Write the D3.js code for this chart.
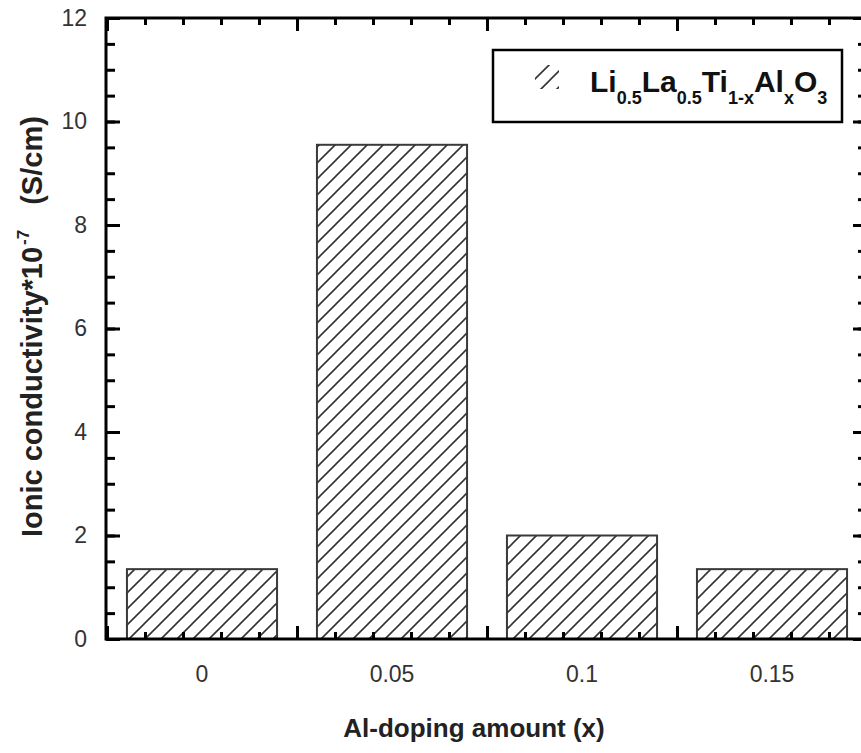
<!DOCTYPE html>
<html>
<head>
<meta charset="utf-8">
<script src="https://cdn.jsdelivr.net/npm/d3@7"></script>
<style>
  body { margin: 0; background: #fff; }
  text { font-family: Arial, "Liberation Sans", sans-serif; }
</style>
</head>
<body>
<svg id="chart" width="861" height="753"></svg>
<script>
const categories = ["0", "0.05", "0.1", "0.15"]
const conductivity = [1.35, 9.55, 2.0, 1.35]
const yTicks = [0, 2, 4, 6, 8, 10, 12]
const yMinorTicks = d3.range(0, 12.01, 0.5)
const legendParts = [
  { t: "Li", sub: false }, { t: "0.5", sub: true },
  { t: "La", sub: false }, { t: "0.5", sub: true },
  { t: "Ti", sub: false }, { t: "1-x", sub: true },
  { t: "Al", sub: false }, { t: "x", sub: true },
  { t: "O", sub: false }, { t: "3", sub: true }
]

const plot = { left: 106, right: 867, top: 18, bottom: 639 }

const svg = d3.select("#chart")

// hatch patterns
const defs = svg.append("defs")
const hatch = (id, shift) => defs.append("pattern")
  .attr("id", id)
  .attr("patternUnits", "userSpaceOnUse")
  .attr("patternTransform", `translate(${shift},0)`)
  .attr("width", 16)
  .attr("height", 16)
  .append("path")
  .attr("d", "M-4,4 l8,-8 M0,16 l16,-16 M12,20 l8,-8")
  .attr("stroke", "#333")
  .attr("stroke-width", 1.6)
hatch("hatch", 0)
hatch("hatchLegend", 6)

// scales
const x = d3.scaleBand()
  .domain(categories)
  .range([plot.left + 1, plot.right])
  .paddingInner(0.21)
  .paddingOuter(0.105)

const xEdge = d3.scaleLinear()
  .domain([0, categories.length])
  .range([plot.left + 1, plot.right])

const y = d3.scaleLinear()
  .domain([0, 12])
  .range([plot.bottom, plot.top])

// bars
svg.append("g")
  .selectAll("rect")
  .data(conductivity)
  .enter()
  .append("rect")
  .attr("x", (d, i) => x(categories[i]))
  .attr("y", d => y(d))
  .attr("width", x.bandwidth())
  .attr("height", d => y(0) - y(d))
  .attr("fill", "url(#hatch)")
  .attr("stroke", "#3a3a3a")
  .attr("stroke-width", 2)

const edgeMajor = d3.range(0, categories.length + 1)
const edgeMinor = d3.range(0, categories.length + 0.01, 0.2)

const tickStyle = g => {
  g.select(".domain").remove()
  g.selectAll(".tick line").attr("stroke", "#000").attr("stroke-width", 3)
}

// bottom ticks
svg.append("g").attr("transform", `translate(0,${plot.bottom})`)
  .call(d3.axisTop(xEdge).tickValues(edgeMinor).tickSize(7).tickFormat(""))
  .call(tickStyle)
svg.append("g").attr("transform", `translate(0,${plot.bottom})`)
  .call(d3.axisTop(xEdge).tickValues(edgeMajor).tickSize(13).tickFormat(""))
  .call(tickStyle)

// top ticks
svg.append("g").attr("transform", `translate(0,${plot.top})`)
  .call(d3.axisBottom(xEdge).tickValues(edgeMinor).tickSize(7).tickFormat(""))
  .call(tickStyle)
svg.append("g").attr("transform", `translate(0,${plot.top})`)
  .call(d3.axisBottom(xEdge).tickValues(edgeMajor).tickSize(13).tickFormat(""))
  .call(tickStyle)

// x labels
svg.append("g").attr("transform", `translate(0,${plot.bottom})`)
  .call(d3.axisBottom(x).tickSize(0).tickPadding(27))
  .call(g => g.select(".domain").remove())
  .selectAll("text")
  .attr("font-size", 23)
  .attr("font-family", "Arial, 'Liberation Sans', sans-serif")
  .attr("fill", "#333")

// left ticks + labels
svg.append("g").attr("transform", `translate(${plot.left},0)`)
  .call(d3.axisRight(y).tickValues(yMinorTicks).tickSize(9).tickFormat(""))
  .call(tickStyle)
svg.append("g").attr("transform", `translate(${plot.left},0)`)
  .call(d3.axisLeft(y).tickValues(yTicks).tickSize(-14).tickPadding(19).tickFormat(d3.format("d")))
  .call(tickStyle)
  .selectAll("text")
  .attr("font-size", 23)
  .attr("font-family", "Arial, 'Liberation Sans', sans-serif")
  .attr("fill", "#333")

// right ticks
svg.append("g").attr("transform", `translate(${plot.right},0)`)
  .call(d3.axisLeft(y).tickValues(yMinorTicks).tickSize(9).tickFormat(""))
  .call(tickStyle)
svg.append("g").attr("transform", `translate(${plot.right},0)`)
  .call(d3.axisLeft(y).tickValues(yTicks).tickSize(14).tickFormat(""))
  .call(tickStyle)

// frame
svg.append("rect")
  .attr("x", plot.left)
  .attr("y", plot.top)
  .attr("width", plot.right - plot.left)
  .attr("height", plot.bottom - plot.top)
  .attr("fill", "none")
  .attr("stroke", "#000")
  .attr("stroke-width", 3)

// axis titles
svg.append("text")
  .attr("x", 474)
  .attr("y", 737)
  .attr("text-anchor", "middle")
  .attr("font-size", 26)
  .attr("font-weight", "bold")
  .attr("fill", "#222")
  .text("Al-doping amount (x)")

const yTitle = svg.append("text")
  .attr("transform", "translate(42,537) rotate(-90)")
  .attr("text-anchor", "start")
  .attr("font-size", 29)
  .attr("font-weight", "bold")
  .attr("fill", "#222")
yTitle.append("tspan").text("Ionic conductivity*10")
yTitle.append("tspan").attr("font-size", 17).attr("dy", -13).attr("dx", 2).text("-7")
yTitle.append("tspan").attr("dy", 13).attr("dx", 25).text("(S/cm)")

// legend
const legend = svg.append("g")
legend.append("rect")
  .attr("x", 493)
  .attr("y", 50)
  .attr("width", 349)
  .attr("height", 72)
  .attr("fill", "#fff")
  .attr("stroke", "#000")
  .attr("stroke-width", 2.5)

defs.append("clipPath").attr("id", "swatch")
  .append("rect").attr("x", 535).attr("y", 65).attr("width", 24).attr("height", 24)
legend.append("rect")
  .attr("x", 535).attr("y", 65).attr("width", 24).attr("height", 24)
  .attr("fill", "url(#hatchLegend)")
  .attr("clip-path", "url(#swatch)")

const legendText = legend.append("text")
  .attr("x", 590)
  .attr("y", 92)
  .attr("font-weight", "bold")
  .attr("fill", "#111")
legendParts.forEach((p, i) => {
  const prev = i > 0 ? legendParts[i - 1].sub : false
  const dy = p.sub ? 12 : (prev ? -12 : 0)
  legendText.append("tspan")
    .attr("font-size", p.sub ? 18 : 30)
    .attr("dy", dy)
    .text(p.t)
})
</script>
</body>
</html>
